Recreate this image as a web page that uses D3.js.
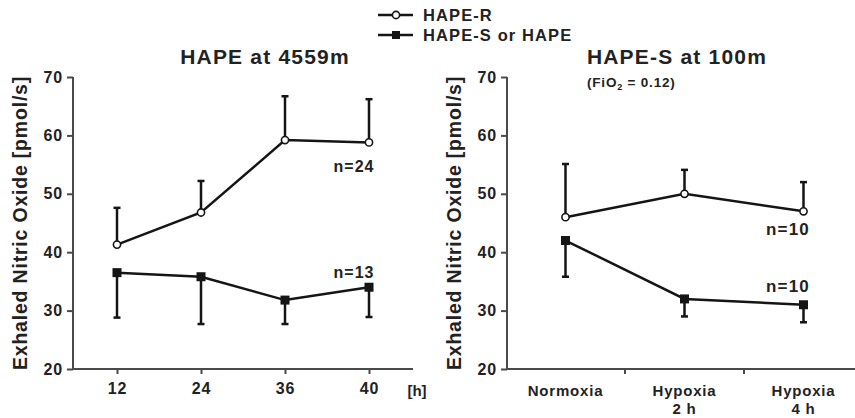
<!DOCTYPE html>
<html>
<head>
<meta charset="utf-8">
<script src="https://cdn.jsdelivr.net/npm/d3@7"></script>
<style>
  body { margin: 0; background: #fff; }
  text { font-family: "Liberation Sans", Arial, sans-serif; font-weight: bold; fill: #222; }
</style>
</head>
<body>
<div id="chart"></div>
<script>
  // left panel: at altitude, hours after arrival
  const hours = ["12", "24", "36", "40"]
  const altHapeR = [41.3, 46.8, 59.2, 58.8]
  const altHapeRSd = [6.3, 5.4, 7.5, 7.4]
  const altHapeS = [36.5, 35.8, 31.8, 34.0]
  const altHapeSSd = [7.7, 8.1, 4.1, 5.1]

  // right panel: low altitude, hypoxic breathing
  const conditions = ["Normoxia", "Hypoxia|2 h", "Hypoxia|4 h"]
  const lowHapeR = [46, 50, 47]
  const lowHapeRSd = [9.1, 4.1, 5.0]
  const lowHapeS = [42, 32, 31]
  const lowHapeSSd = [6.2, 3.0, 3.0]

  const yTicks = [20, 30, 40, 50, 60, 70]

  const width = 855, height = 418

  const svg = d3.select("#chart")
    .append("svg")
    .attr("width", width)
    .attr("height", height)

  const y = d3.scaleLinear().domain([20, 70]).range([369, 77])

  const ink = "#151515"
  const axisInk = "#4a4a4a"

  function yAxis(x0) {
    const g = svg.append("g").attr("transform", `translate(${x0},0)`)
    g.call(d3.axisLeft(y).tickValues(yTicks).tickSize(6).tickPadding(4))
    g.select(".domain").attr("stroke", axisInk).attr("stroke-width", 2)
      .attr("d", `M0,${y(70)}V${y(20)}`)
    g.selectAll(".tick line").attr("stroke", axisInk).attr("stroke-width", 2)
    g.selectAll(".tick text").attr("font-size", 16).attr("letter-spacing", 0.8)
      .attr("fill", "#2a2a2a").attr("font-family", "Liberation Sans, Arial, sans-serif")
    svg.append("text")
      .attr("transform", `translate(${x0 - 53},${(y(70) + y(20)) / 2}) rotate(-90)`)
      .attr("text-anchor", "middle")
      .attr("dy", "0.35em")
      .attr("font-size", 19.5)
      .attr("letter-spacing", 0.8)
      .text("Exhaled Nitric Oxide [pmol/s]")
  }

  function series(xf, vals, sds, dir, open) {
    const g = svg.append("g")
    // error bars, one side only
    vals.forEach((v, i) => {
      const cx = xf(i)
      const end = v + dir * sds[i]
      g.append("line")
        .attr("x1", cx).attr("x2", cx)
        .attr("y1", y(v)).attr("y2", y(end))
        .attr("stroke", ink).attr("stroke-width", 2.5)
      g.append("line")
        .attr("x1", cx - 3.5).attr("x2", cx + 3.5)
        .attr("y1", y(end)).attr("y2", y(end))
        .attr("stroke", ink).attr("stroke-width", 2.5)
    })
    const line = d3.line().x((d, i) => xf(i)).y(d => y(d))
    g.append("path")
      .attr("d", line(vals))
      .attr("fill", "none")
      .attr("stroke", ink)
      .attr("stroke-width", 2.5)
    if (open) {
      g.selectAll("circle").data(vals).join("circle")
        .attr("cx", (d, i) => xf(i)).attr("cy", d => y(d))
        .attr("r", 3.6)
        .attr("fill", "#fff").attr("stroke", ink).attr("stroke-width", 1.6)
    } else {
      g.selectAll("rect").data(vals).join("rect")
        .attr("x", (d, i) => xf(i) - 4.5).attr("y", d => y(d) - 4.5)
        .attr("width", 9).attr("height", 9)
        .attr("fill", ink)
    }
  }

  // ---- left panel
  const xL = d3.scalePoint().domain(hours).range([117, 369])
  yAxis(73)
  const gxL = svg.append("g").attr("transform", `translate(0,${y(20)})`)
    .call(d3.axisBottom(xL).tickSize(5).tickPadding(9))
  gxL.select(".domain").attr("stroke", axisInk).attr("stroke-width", 2).attr("d", "M73,0H413")
  gxL.selectAll(".tick line").attr("stroke", axisInk).attr("stroke-width", 2)
  gxL.selectAll(".tick text").attr("font-size", 16).attr("letter-spacing", 0.8)
    .attr("fill", "#2a2a2a").attr("font-family", "Liberation Sans, Arial, sans-serif")
  svg.append("text").attr("x", 417).attr("y", 396).attr("text-anchor", "middle")
    .attr("font-size", 15).attr("font-weight", "normal").text("[h]")

  series(i => xL(hours[i]), altHapeR, altHapeRSd, 1, true)
  series(i => xL(hours[i]), altHapeS, altHapeSSd, -1, false)

  svg.append("text").attr("x", 265).attr("y", 64).attr("text-anchor", "middle")
    .attr("font-size", 21).attr("letter-spacing", 1.2).text("HAPE at 4559m")
  svg.append("text").attr("x", 354).attr("y", 172).attr("text-anchor", "middle")
    .attr("font-size", 16).attr("letter-spacing", 1).text("n=24")
  svg.append("text").attr("x", 354).attr("y", 278).attr("text-anchor", "middle")
    .attr("font-size", 16).attr("letter-spacing", 1).text("n=13")

  // ---- right panel
  const xR = d3.scaleBand().domain(conditions).range([506, 863]).padding(0)
  yAxis(507)
  const gxR = svg.append("g").attr("transform", `translate(0,${y(20)})`)
  gxR.append("path").attr("d", "M507,0H855").attr("stroke", axisInk).attr("stroke-width", 2)
  gxR.selectAll("line").data(conditions.slice(1)).join("line")
    .attr("x1", d => xR(d)).attr("x2", d => xR(d))
    .attr("y1", 0).attr("y2", 5)
    .attr("stroke", axisInk).attr("stroke-width", 2)
  gxR.selectAll("text").data(conditions).join("text")
    .attr("x", d => xR(d) + xR.bandwidth() / 2)
    .attr("text-anchor", "middle")
    .attr("font-size", 15)
    .attr("letter-spacing", 0.8)
    .each(function (d) {
      d.split("|").forEach((part, k) => {
        d3.select(this).append("tspan")
          .attr("x", xR(d) + xR.bandwidth() / 2)
          .attr("y", 27 + k * 18)
          .text(part)
      })
    })

  const cR = i => xR(conditions[i]) + xR.bandwidth() / 2
  series(cR, lowHapeR, lowHapeRSd, 1, true)
  series(cR, lowHapeS, lowHapeSSd, -1, false)

  svg.append("text").attr("x", 677).attr("y", 64).attr("text-anchor", "middle")
    .attr("font-size", 21).attr("letter-spacing", 1.2).text("HAPE-S at 100m")
  const fio = svg.append("text").attr("x", 587).attr("y", 87)
    .attr("font-size", 13.5).attr("letter-spacing", 0.8)
  fio.append("tspan").text("(FiO")
  fio.append("tspan").attr("font-size", 9).attr("dy", 3).text("2")
  fio.append("tspan").attr("dy", -3).text(" = 0.12)")
  svg.append("text").attr("x", 788).attr("y", 235).attr("text-anchor", "middle")
    .attr("font-size", 17).attr("letter-spacing", 1.2).text("n=10")
  svg.append("text").attr("x", 788).attr("y", 292).attr("text-anchor", "middle")
    .attr("font-size", 17).attr("letter-spacing", 1.2).text("n=10")

  // ---- legend
  const legend = [
    { name: "HAPE-R", open: true, y: 15 },
    { name: "HAPE-S or HAPE", open: false, y: 35 }
  ]
  const lg = svg.append("g")
  legend.forEach(d => {
    lg.append("line").attr("x1", 378).attr("x2", 413).attr("y1", d.y).attr("y2", d.y)
      .attr("stroke", ink).attr("stroke-width", 2.5)
    if (d.open) {
      lg.append("circle").attr("cx", 396).attr("cy", d.y).attr("r", 3.6)
        .attr("fill", "#fff").attr("stroke", ink).attr("stroke-width", 1.6)
    } else {
      lg.append("rect").attr("x", 392).attr("y", d.y - 4).attr("width", 8).attr("height", 8)
        .attr("fill", ink)
    }
    lg.append("text").attr("x", 423).attr("y", d.y).attr("dy", "0.36em")
      .attr("font-size", 16.5).attr("letter-spacing", 1.1).text(d.name)
  })
</script>
</body>
</html>
